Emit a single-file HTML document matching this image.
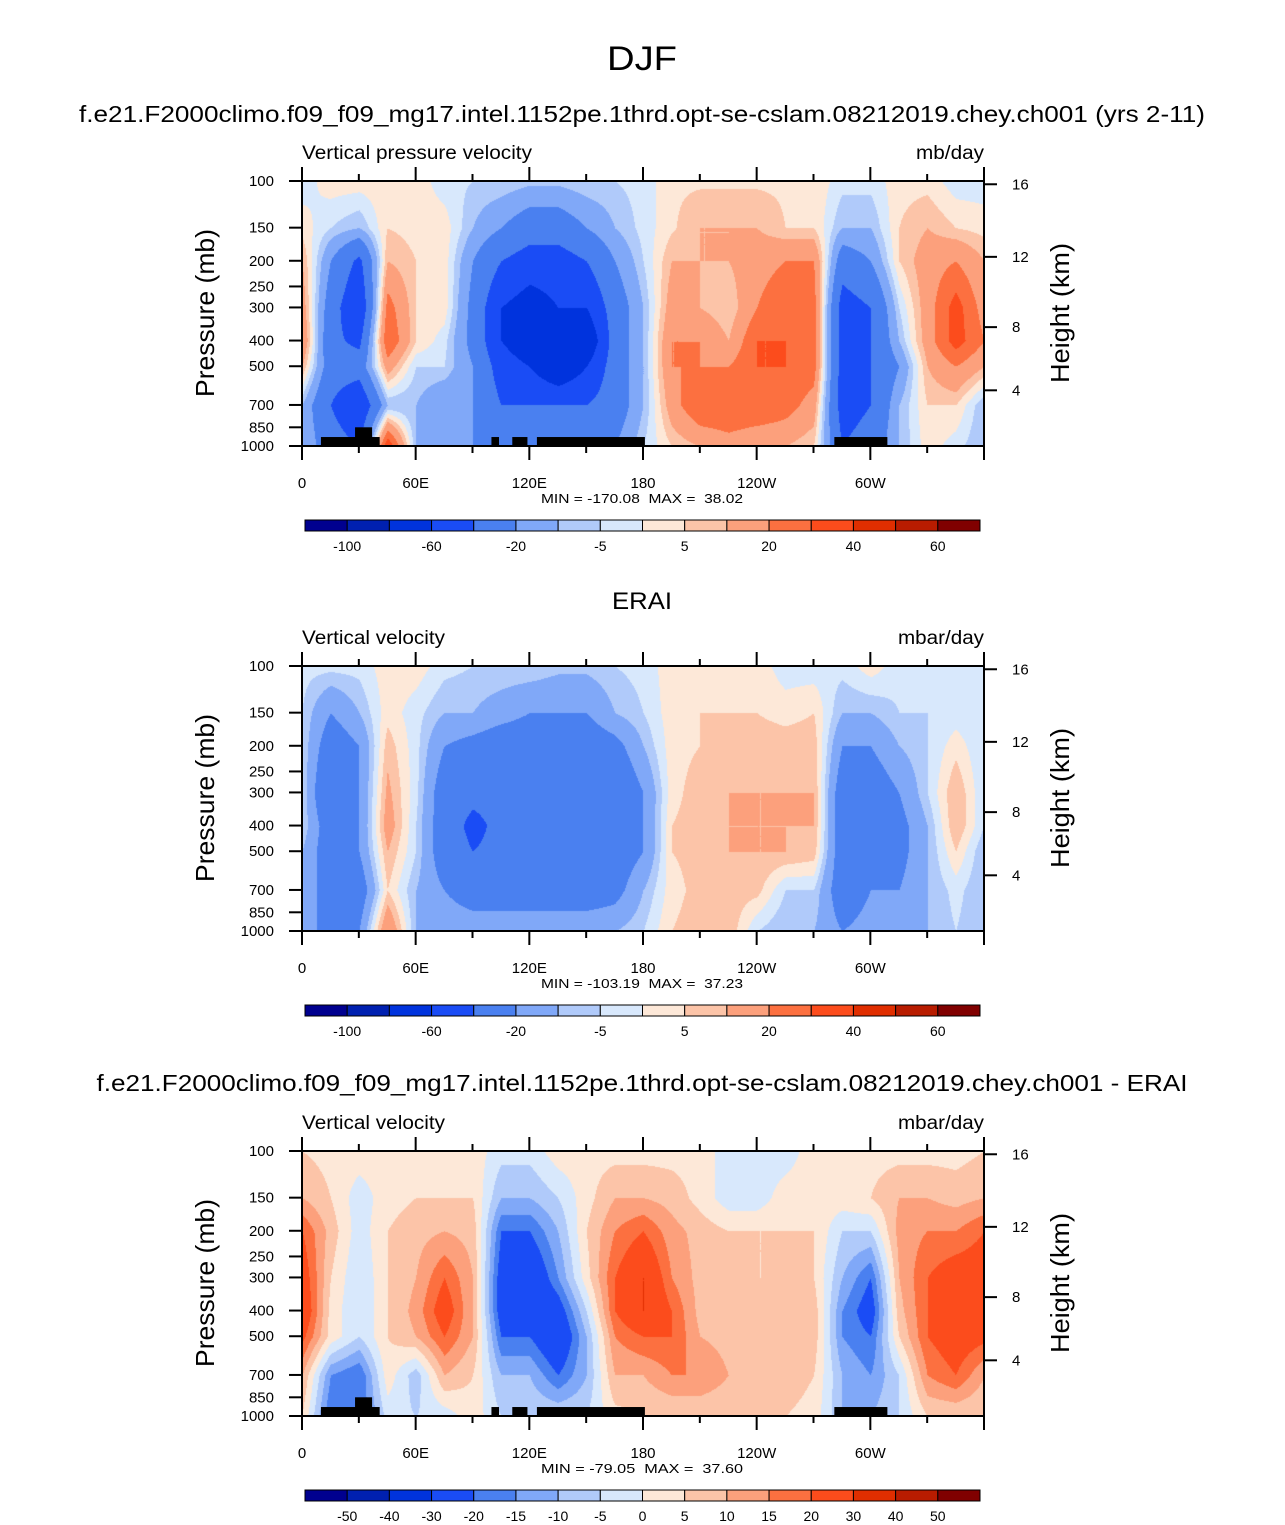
<!DOCTYPE html>
<html><head><meta charset="utf-8"><style>
body{margin:0;background:#fff;}
#root{position:relative;width:1285px;height:1525px;overflow:hidden;font-family:"Liberation Sans",sans-serif;color:#000;}
</style></head><body>
<div id="root">
<svg id="svg" width="1285" height="1525" style="position:absolute;left:0;top:0"></svg>
</div>
<script>
// ---------- data ----------
const lons = [0,15,30,45,60,75,90,105,120,135,150,165,180,195,210,225,240,255,270,285,300,315,330,345,360];
const levels = [100,150,200,300,400,500,700,1000];
const boundsAbs = [-100,-80,-60,-40,-20,-10,-5,0,5,10,20,30,40,50,60];
const boundsDiff = [-50,-40,-30,-20,-15,-10,-5,0,5,10,15,20,30,40,50];
const palette = ["#00008f","#0020b0","#0033dd","#1a4cf5","#4a80f0","#80a8f8","#b0cafa","#d8e8fc","#fde8d8","#fcc4a8","#fca07c","#fc7040","#fc4c1c","#e02e00","#b81c00","#800000"];
const modelField = [
[-3,3,10,15,20,10,-10,-10],[3,-5,-20,-30,-35,-30,-40,-30],[3,-10,-45,-60,-45,-30,-60,-40],[3,5,10,25,30,15,-10,40],
[3,3,5,5,5,-5,-10,-10],[-3,3,3,3,-3,-5,-20,-20],[-5,-10,-20,-25,-25,-20,-20,-20],[-5,-20,-40,-60,-60,-50,-40,-40],
[-8,-30,-50,-70,-75,-60,-40,-20],[-8,-30,-50,-60,-70,-80,-40,-20],[-5,-20,-40,-60,-80,-60,-40,-20],[-5,-10,-20,-30,-30,-30,-30,-20],
[-3,-3,-5,-10,-10,-10,-10,-5],[4,4,10,15,20,20,15,5],[4,10,10,10,20,20,30,10],[4,10,10,5,10,20,30,15],
[4,10,15,20,30,30,30,10],[4,5,20,30,30,30,25,10],[4,5,20,25,25,25,15,5],[-3,-10,-30,-50,-50,-50,-50,-40],
[-3,-10,-20,-40,-40,-40,-40,-30],[3,5,5,-5,-10,-20,-10,-10],[3,10,15,15,15,10,5,3],[-3,5,20,35,35,20,5,-3],
[-3,3,10,15,20,10,-10,-10]];
const eraiField = [
[-3,-5,-5,-5,-5,-10,-10,-10],[-3,-20,-30,-40,-30,-30,-30,-30],[-3,-10,-20,-20,-20,-20,-30,-20],[3,3,8,12,15,10,5,20],
[3,-3,-3,-3,-5,-5,-10,-10],[-3,-10,-20,-30,-30,-30,-20,-10],[-5,-10,-25,-35,-45,-40,-30,-10],[-5,-15,-30,-35,-35,-35,-30,-10],
[-5,-20,-30,-35,-35,-35,-30,-10],[-8,-20,-30,-35,-35,-35,-30,-10],[-8,-20,-30,-40,-40,-35,-30,-10],[-5,-10,-25,-35,-35,-30,-25,-10],
[-3,-5,-10,-20,-20,-20,-10,-5],[3,3,3,3,5,5,3,5],[3,5,5,8,8,7,7,8],[3,5,8,10,10,10,8,9],
[3,5,8,10,10,10,7,-5],[-3,3,8,10,10,10,-5,-10],[-3,5,8,10,10,8,-5,-10],[-3,-10,-20,-30,-30,-30,-30,-20],
[3,-10,-20,-30,-30,-25,-20,-15],[-3,-5,-10,-20,-25,-25,-20,-20],[-3,-5,-5,-5,-10,-10,-10,-10],[-3,-3,3,10,10,5,-3,-5],
[-3,-5,-5,-5,-5,-10,-10,-10]];
const diffField = [
[5,10,20,25,28,22,10,5],[3,5,8,5,3,3,-15,-20],[3,-3,-3,-5,-5,-5,-20,-20],[3,3,5,5,5,5,3,-3],
[3,5,8,10,12,10,-8,-5],[3,5,10,20,25,20,10,-3],[3,5,8,10,10,10,5,3],[-3,-10,-20,-25,-25,-20,-10,-5],
[-3,-10,-20,-30,-30,-20,-10,-5],[3,-5,-10,-15,-25,-30,-20,-5],[3,3,5,3,-5,-10,-10,-5],[3,10,15,20,20,15,10,3],
[3,10,20,30,30,20,10,5],[3,8,12,15,20,20,15,5],[3,3,8,8,8,10,15,5],[-3,-3,5,5,8,8,10,5],
[-3,-3,5,5,8,8,10,5],[-3,3,5,5,8,8,8,5],[3,3,5,5,8,8,5,3],[3,3,-5,-10,-15,-15,-10,-10],
[3,5,-5,-20,-25,-20,-15,-10],[3,10,12,10,8,5,-5,-5],[3,10,15,20,20,20,15,5],[3,8,15,25,30,25,20,5],
[5,10,20,25,28,22,10,5]];
const landMask = [[10,41,925],[28,37,850],[100,104,925],[111,119,925],[124,181,925],[281,309,925]];
const pTicks = [100,150,200,250,300,400,500,700,850,1000];
const hTicks = [4,8,12,16];
const lonTickLabels = ["0","60E","120E","180","120W","60W"];
const absLabels = ["-100","","-60","","-20","","-5","","5","","20","","40","","60"];
const diffLabels = ["-50","-40","-30","-20","-15","-10","-5","0","5","10","15","20","30","40","50"];

// ---------- layout ----------
const X0=302, X1=984, PH=265;
const NS="http://www.w3.org/2000/svg";
const svg=document.getElementById('svg');
function xOf(lon){return X0+(X1-X0)*lon/360;}
function yOf(top,p){return top+PH*Math.log10(p/100);}
function hToP(z){const m=z*1000;return m<=11000?1013.25*Math.pow(1-2.2558e-5*m,5.2559):226.32*Math.exp(-(m-11000)/6341.6);}
function el(tag,attrs,parent){const e=document.createElementNS(NS,tag);for(const k in attrs)e.setAttribute(k,attrs[k]);(parent||svg).appendChild(e);return e;}
function txt(x,y,s,size,anchor,parent,len){const a={x:x,y:y,'font-size':size,'text-anchor':anchor||'middle','font-family':'Liberation Sans, sans-serif'};
  if(len){a.textLength=len;a.lengthAdjust='spacingAndGlyphs';}
  const t=el('text',a,parent);t.setAttribute('xml:space','preserve');t.style.whiteSpace='pre';t.textContent=s;return t;}
function colorIdx(v,b){let i=0;while(i<b.length&&v>=b[i])i++;return i;}
function sample(f,lon,lp){
  let i=Math.min(Math.floor(lon/15),lons.length-2);const tx=(lon-lons[i])/15;
  const lls=levels.map(p=>Math.log10(p));
  let j=0;while(j<lls.length-2&&lp>lls[j+1])j++;
  const ty=Math.max(0,Math.min(1,(lp-lls[j])/(lls[j+1]-lls[j])));
  const a=f[i][j],b=f[i+1][j],c=f[i][j+1],d=f[i+1][j+1];
  return (a*(1-tx)+b*tx)*(1-ty)+(c*(1-tx)+d*tx)*ty;
}
function hex(c){return [parseInt(c.substr(1,2),16),parseInt(c.substr(3,2),16),parseInt(c.substr(5,2),16)];}
const palRGB=palette.map(hex);

function panel(top,field,bounds,cbLabels,leftLab,leftLen,rightLab,rightLen,minmax,mask,name){
  const g=el('g',{});
  
  
  const W=X1-X0, cv=document.createElement('canvas');cv.width=W;cv.height=PH;
  const ctx=cv.getContext('2d'),img=ctx.createImageData(W,PH);
  for(let y=0;y<PH;y++){const lp=2+y/PH;for(let x=0;x<W;x++){const v=sample(field,x/W*360,lp);const c=palRGB[colorIdx(v,bounds)];const k=(y*W+x)*4;img.data[k]=c[0];img.data[k+1]=c[1];img.data[k+2]=c[2];img.data[k+3]=255;}}
  ctx.putImageData(img,0,0);
  const fo=el('image',{x:X0,y:top,width:W,height:PH,href:cv.toDataURL()},g);
  
  
  if(mask){for(const m of landMask){const r=el('rect',{x:xOf(m[0]),y:yOf(top,m[2]),width:xOf(m[1])-xOf(m[0]),height:top+PH-yOf(top,m[2]),fill:'#000'},g);
    
    }}
  el('rect',{x:X0,y:top,width:W,height:PH,fill:'none',stroke:'#000','stroke-width':2},g);
  for(let l=0;l<=360;l+=30){const maj=l%60===0,len=maj?14:7;
    el('line',{x1:xOf(l),x2:xOf(l),y1:top+PH,y2:top+PH+len,stroke:'#000','stroke-width':2},g);
    el('line',{x1:xOf(l),x2:xOf(l),y1:top,y2:top-len,stroke:'#000','stroke-width':2},g);
    if(maj&&l<360){const t=txt(xOf(l),top+PH+42,lonTickLabels[l/60],15,'middle',g);
      
      }}
  for(const p of pTicks){const y=yOf(top,p);el('line',{x1:X0-13,x2:X0,y1:y,y2:y,stroke:'#000','stroke-width':2},g);
    const t=txt(X0-28,y+5,String(p),15,'end',g);
    
    }
  for(const h of hTicks){const y=yOf(top,hToP(h));el('line',{x1:X1,x2:X1+13,y1:y,y2:y,stroke:'#000','stroke-width':2},g);
    const t=txt(X1+28,y+5,String(h),15,'start',g);
    
    }
  const l1=txt(X0,top-22,leftLab,19,'start',g,leftLen);
  const l2=txt(X1,top-22,rightLab,19,'end',g,rightLen);
  const ya=txt(0,0,'Pressure (mb)',26,'middle',g,168);ya.setAttribute('transform',`translate(214,${top+132}) rotate(-90)`);
  
  const yb=txt(0,0,'Height (km)',26,'middle',g,140);yb.setAttribute('transform',`translate(1069,${top+132}) rotate(-90)`);
  
  const mm=txt(642,top+322,minmax,13,'middle',g,202);
  const cy=top+339,cx0=305,cw=(980-305)/16;
  const cb=el('g',{},g);
  for(let i=0;i<16;i++){const r=el('rect',{x:cx0+i*cw,y:cy,width:cw,height:11,fill:palette[i],stroke:'#000','stroke-width':1},cb);
    }
  for(let i=0;i<15;i++){if(!cbLabels[i])continue;const t=txt(cx0+(i+1)*cw,cy+31,cbLabels[i],14,'middle',cb);
    }
}
const t0=txt(642,70,'DJF',34,'middle',svg,70);
const t1=txt(642,122,'f.e21.F2000climo.f09_f09_mg17.intel.1152pe.1thrd.opt-se-cslam.08212019.chey.ch001 (yrs 2-11)',23,'middle',svg,1126);

const t2=txt(642,609,'ERAI',24,'middle',svg,60);
const t3=txt(642,1091,'f.e21.F2000climo.f09_f09_mg17.intel.1152pe.1thrd.opt-se-cslam.08212019.chey.ch001 - ERAI',23,'middle',svg,1091);

panel(181,modelField,boundsAbs,absLabels,'Vertical pressure velocity',230,'mb/day',68,'MIN = -170.08  MAX =  38.02',true,'model-panel');
panel(666,eraiField,boundsAbs,absLabels,'Vertical velocity',143,'mbar/day',86,'MIN = -103.19  MAX =  37.23',false,'erai-panel');
panel(1151,diffField,boundsDiff,diffLabels,'Vertical velocity',143,'mbar/day',86,'MIN = -79.05  MAX =  37.60',true,'diff-panel');
</script>
</body></html>
